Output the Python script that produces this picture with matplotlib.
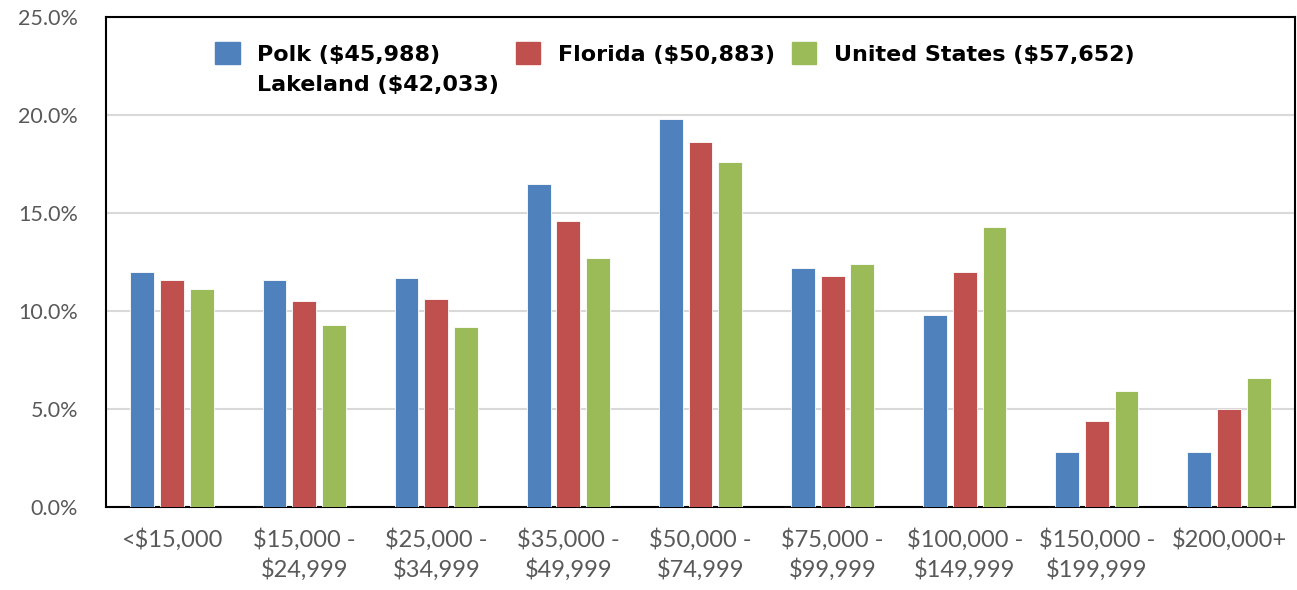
import numpy as np
import matplotlib
matplotlib.use("Agg")
import matplotlib.pyplot as plt
from matplotlib.patches import Patch
from matplotlib.ticker import PercentFormatter

categories = ["<$15,000", "$15,000 -\n$24,999", "$25,000 -\n$34,999", "$35,000 -\n$49,999",
              "$50,000 -\n$74,999", "$75,000 -\n$99,999", "$100,000 -\n$149,999",
              "$150,000 -\n$199,999", "$200,000+"]
polk = [12.0, 11.6, 11.7, 16.5, 19.8, 12.2, 9.8, 2.8, 2.8]
florida = [11.6, 10.5, 10.6, 14.6, 18.6, 11.8, 12.0, 4.4, 5.0]
us = [11.1, 9.3, 9.2, 12.7, 17.6, 12.4, 14.3, 5.9, 6.6]
series_labels = ["Polk ($45,988)", "Florida ($50,883)", "United States ($57,652)",
                 "Lakeland ($42,033)"]
colors = ["#4f81bd", "#c0504d", "#9bbb59"]

fig = plt.figure(figsize=(12.97, 5.9), dpi=100)
ax = fig.add_axes([106 / 1297, 1 - 507 / 590, 1189 / 1297, 490 / 590])

x = np.arange(len(categories))
w = 0.18
step = 0.225
for i, (vals, c) in enumerate(zip([polk, florida, us], colors)):
    ax.bar(x + (i - 1) * step, vals, width=w, color=c, edgecolor="white", linewidth=0.6, zorder=3)

ax.set_xlim(-0.5, len(categories) - 0.5)
ax.set_ylim(0, 25)
ax.set_yticks(np.arange(0, 25.1, 5))
ax.yaxis.set_major_formatter(PercentFormatter(decimals=1))
ax.grid(axis="y", color="#d9d9d9", linewidth=1.5, zorder=0)
ax.set_xticks(x)
ax.set_xticklabels(categories, linespacing=1.4)
ax.tick_params(length=0, labelcolor="#595959")
ax.tick_params(axis="x", pad=15, labelsize=17)
ax.tick_params(axis="y", pad=20, labelsize=15.5)
for t in ax.get_xticklabels() + ax.get_yticklabels():
    t.set_fontfamily("Lato")
for s in ax.spines.values():
    s.set_color("black")
    s.set_linewidth(1.5)

# legend: Polk / Lakeland share the first column, Lakeland has no swatch
handles = [Patch(color=colors[0]), Patch(color="none"), Patch(color=colors[1]),
           Patch(color=colors[2])]
labels = [series_labels[0], series_labels[3], series_labels[1], series_labels[2]]
leg = ax.legend(handles, labels, ncol=3, loc="upper left", bbox_to_anchor=(0.075, 0.989),
                frameon=False, prop={"family": "DejaVu Sans", "weight": "bold", "size": 16},
                handlelength=1.1, handleheight=1.1, handletextpad=0.8, columnspacing=0.75,
                labelspacing=0.35)

fig.savefig("out.png", dpi=100)
